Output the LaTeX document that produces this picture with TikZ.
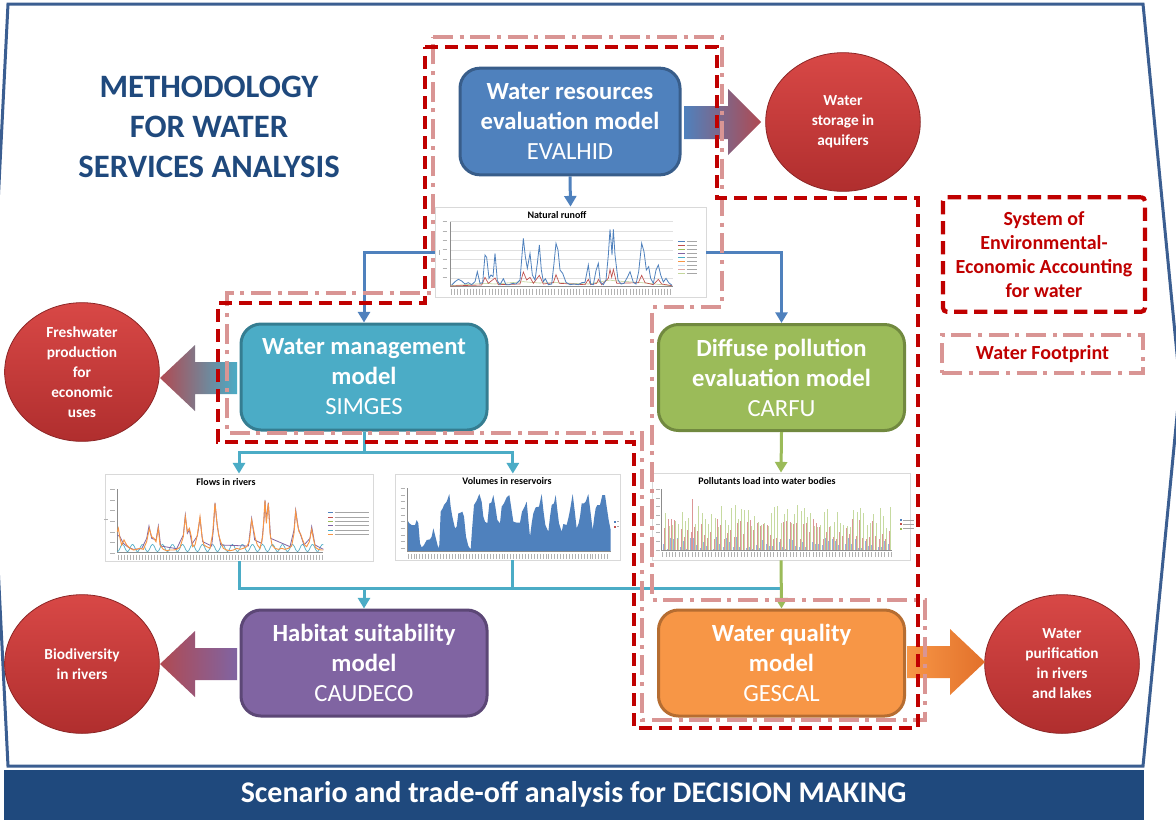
\documentclass[tikz,border=0pt]{standalone}
\usepackage{fontspec}
\setmainfont{Carlito}
\usetikzlibrary{arrows.meta,shapes.geometric,calc}
\definecolor{evblue}{HTML}{4F81BD}
\definecolor{evedge}{HTML}{385D8A}
\definecolor{tealA}{HTML}{4BACC6}
\definecolor{tealedge}{HTML}{357D91}
\definecolor{greenA}{HTML}{9BBB59}
\definecolor{greenedge}{HTML}{71893F}
\definecolor{purpA}{HTML}{8064A2}
\definecolor{purpedge}{HTML}{5C4776}
\definecolor{orngA}{HTML}{F79646}
\definecolor{orngedge}{HTML}{B66D31}
\definecolor{navy}{HTML}{1F497D}
\definecolor{seea}{HTML}{C00000}
\definecolor{wfp}{HTML}{D99594}
\definecolor{frameblue}{HTML}{3B5E91}
\definecolor{ballTop}{RGB}{216,72,70}
\definecolor{ballBot}{RGB}{176,46,46}
\definecolor{ballEdge}{RGB}{140,38,38}
\definecolor{arrRed}{RGB}{176,74,82}
\definecolor{orngDark}{RGB}{226,112,42}
\definecolor{sBlue}{HTML}{4F81BD}
\definecolor{sRed}{HTML}{C0504D}
\definecolor{sGreen}{HTML}{9BBB59}
\definecolor{sPurple}{HTML}{8064A2}
\definecolor{sTeal}{HTML}{4BACC6}
\definecolor{sOrange}{HTML}{F79646}
\definecolor{pBlue}{RGB}{150,180,220}
\definecolor{pRed}{RGB}{220,150,150}
\definecolor{pGreen}{RGB}{198,218,160}
\begin{document}
\begin{tikzpicture}[x=0.75pt,y=-0.75pt,
  model/.style={draw, line width=2.25pt, rounded corners=15pt, text=white, align=center, inner sep=0pt, font=\fontsize{18.5}{22.5}\selectfont},
  ball/.style={ellipse, minimum width=116pt, minimum height=104pt, draw=ballEdge, line width=0.6pt, top color=ballTop, bottom color=ballBot, text=white, align=center, font=\bfseries\fontsize{11.5}{15}\selectfont, inner sep=0pt},
  chart/.style={draw=black!15, fill=white, line width=0.6pt, inner sep=0pt},
  ctitle/.style={font=\bfseries\fontsize{7.5}{9}\selectfont, inner sep=0pt},
  conn/.style={line width=2.25pt, -{Triangle[width=9pt,length=8pt]}},
  plain/.style={line width=2.25pt},
  seeaLine/.style={draw=seea, line width=3.2pt, dash pattern=on 10pt off 5pt},
  wfpLine/.style={draw=wfp, line width=3.2pt, dash pattern=on 15pt off 5pt on 3pt off 5pt},
  tick/.style={black!30, line width=0.5pt},
  leg/.style={black!35, line width=0.6pt}]
\useasboundingbox (0,0) rectangle (1176,819);
\fill[white] (0,0) rectangle (1176,819);
% outer frame
\draw[frameblue, line width=2.25pt, line join=miter] (8,4) -- (1143,4) -- (1180,385) -- (1143,766) -- (8,766) -- (-11,385) -- cycle;
% banner
\node[fill=navy, minimum width=855pt, minimum height=37.5pt, inner sep=0pt, text=white, font=\bfseries\fontsize{22.5}{26}\selectfont] (banner) at (573.5,794.5) {Scenario and trade-off analysis for DECISION MAKING};
% title
\node[text=navy, align=center, font=\bfseries\fontsize{24.5}{30}\selectfont, inner sep=0pt] (title) at (209,127) {METHODOLOGY\\FOR WATER\\SERVICES ANALYSIS};

% model boxes
\node[model, fill=evblue, draw=evedge, minimum width=165pt, minimum height=80pt] (ev) at (570,121.5) {\textbf{Water resources}\\\textbf{evaluation model}\\EVALHID};
\node[model, fill=tealA, draw=tealedge, minimum width=184.5pt, minimum height=79.5pt] (sim) at (364,377) {\textbf{Water management}\\\textbf{model}\\SIMGES};
\node[model, fill=greenA, draw=greenedge, minimum width=184.5pt, minimum height=79.5pt] (carfu) at (781.5,377.5) {\textbf{Diffuse pollution}\\\textbf{evaluation model}\\CARFU};
\node[model, fill=purpA, draw=purpedge, minimum width=184.5pt, minimum height=79.5pt] (caud) at (364,663) {\textbf{Habitat suitability}\\\textbf{model}\\CAUDECO};
\node[model, fill=orngA, draw=orngedge, minimum width=184.5pt, minimum height=79.5pt] (gescal) at (781.5,663) {\textbf{Water quality}\\\textbf{model}\\GESCAL};

% outcome balls
\node[ball] (aq) at (843,122) {Water\\storage in\\aquifers};
\node[ball] (fresh) at (82,372) {Freshwater\\production\\for\\economic\\uses};
\node[ball] (bio) at (82,664) {Biodiversity\\in rivers};
\node[ball] (pur) at (1062,664) {Water\\purification\\in rivers\\and lakes};

% big gradient arrows
\shade[left color=evblue, right color=arrRed] (684,106) -- (728,106) -- (728,89) -- (761,122) -- (728,155) -- (728,139) -- (684,139) -- cycle;
\shade[left color=arrRed, right color=tealA] (237,362) -- (195,362) -- (195,345) -- (160,378) -- (195,411) -- (195,394) -- (237,394) -- cycle;
\shade[left color=arrRed, right color=purpA] (237,648) -- (195,648) -- (195,631) -- (160,664) -- (195,697) -- (195,680) -- (237,680) -- cycle;
\shade[left color=orngA, right color=orngDark] (907,646) -- (950,646) -- (950,629) -- (985,662) -- (950,695) -- (950,678) -- (907,678) -- cycle;

% charts
\node[chart, minimum width=203.25pt, minimum height=67.5pt] (runoff) at (570.5,252) {};
\node[chart, minimum width=201pt, minimum height=65.25pt] (flows) at (239,517.5) {};
\node[chart, minimum width=168.75pt, minimum height=64.5pt] (vol) at (507.5,517) {};
\node[chart, minimum width=193.5pt, minimum height=65.25pt] (poll) at (781,516.5) {};

% --- Natural runoff content
\node[ctitle] (t1) at (557,215) {Natural runoff};
\begin{scope}[shift={(420,200)}, x=0.25pt, y=-0.25pt]
 \foreach \g in {65,93,122,150,178,206,234} \draw[black!12, line width=0.3pt] (90,\g) -- (760,\g);
 \draw[black!45, line width=0.4pt] (90,65) -- (90,260) -- (760,260);
 \foreach \i in {0,...,70} \draw[tick] ({94+\i*9.4},266) -- ++(0,18);
 \foreach \g in {65,93,...,260} \draw[tick] (68,\g) -- (82,\g);
 \draw[tick] (58,150) -- (58,165);
 \draw[sGreen!70, line width=0.4pt] (92,257) -- (195,250) -- (225,252) -- (310,245) -- (358,249) -- (408,248) -- (505,252) -- (570,240) -- (580,242) -- (665,248) -- (756,257);
 \draw[sRed, line width=0.5pt] (92,258) -- (150,256) -- (185,255) -- (195,232) -- (205,250) -- (225,234) -- (235,254) -- (300,252) -- (310,216) -- (320,240) -- (330,232) -- (340,250) -- (358,226) -- (370,252) -- (400,248) -- (408,224) -- (418,250) -- (495,254) -- (505,238) -- (512,254) -- (530,250) -- (535,238) -- (545,254) -- (565,235) -- (570,208) -- (575,232) -- (580,208) -- (590,250) -- (655,248) -- (665,226) -- (675,248) -- (700,254) -- (715,238) -- (725,252) -- (756,257);
 \draw[sBlue, line width=0.6pt] (95,255) -- (105,245) -- (115,238) -- (125,243) -- (135,252) -- (145,248) -- (155,254) -- (165,245) -- (172,215) -- (180,250) -- (188,248) -- (195,165) -- (200,172) -- (207,235) -- (213,225) -- (219,230) -- (225,160) -- (232,242) -- (240,254) -- (250,236) -- (258,254) -- (268,254) -- (278,250) -- (288,252) -- (300,240) -- (310,115) -- (316,170) -- (322,205) -- (330,160) -- (337,225) -- (345,240) -- (352,190) -- (358,135) -- (364,210) -- (370,245) -- (376,236) -- (385,254) -- (395,252) -- (402,190) -- (408,130) -- (414,150) -- (420,210) -- (428,220) -- (438,247) -- (450,254) -- (462,252) -- (475,254) -- (485,248) -- (495,247) -- (505,195) -- (512,252) -- (520,254) -- (528,212) -- (535,190) -- (541,246) -- (550,254) -- (558,240) -- (565,165) -- (570,88) -- (574,135) -- (576,165) -- (580,88) -- (585,165) -- (594,240) -- (603,252) -- (612,250) -- (622,232) -- (630,215) -- (640,247) -- (648,252) -- (656,215) -- (665,130) -- (672,155) -- (679,210) -- (686,200) -- (692,235) -- (700,250) -- (708,210) -- (715,195) -- (722,225) -- (730,246) -- (738,235) -- (746,248) -- (756,256);
 \foreach \c [count=\k from 0] in {sBlue,sRed,sGreen,sPurple,sTeal,sOrange,sBlue!30,sRed!50,sGreen!60}
   {\draw[\c, line width=0.6pt] (775,{125+\k*12}) -- (795,{125+\k*12});
    \draw[leg] (800,{125+\k*12}) -- (832,{125+\k*12});}
\end{scope}

% --- Flows in rivers content
\node[ctitle] (t2) at (226,482) {Flows in rivers};
\begin{scope}[shift={(100,470)}, x=0.25pt, y=-0.25pt]
 \draw[black!45, line width=0.4pt] (52,58) -- (52,247) -- (670,247);
 \foreach \i in {0,...,68} \draw[tick] ({55+\i*9},254) -- ++(0,16);
 \foreach \g in {58,90,...,250} \draw[tick] (30,\g) -- (45,\g);
 \draw[tick] (12,148) -- (24,148);
 \draw[sTeal, line width=0.5pt] plot[domain=52:670, samples=160] (\x, {234-11*sin(\x*12)});
 \draw[sPurple, line width=0.6pt] (52,195) -- (60,200) -- (70,220) -- (85,232) -- (100,238) -- (125,236) -- (140,205) -- (147,168) -- (155,205) -- (168,210) -- (175,168) -- (182,228) -- (230,236) -- (250,195) -- (256,135) -- (262,190) -- (268,180) -- (276,222) -- (292,198) -- (300,145) -- (308,215) -- (335,228) -- (340,180) -- (345,98) -- (352,170) -- (362,225) -- (445,228) -- (455,145) -- (464,210) -- (485,220) -- (492,150) -- (495,90) -- (499,150) -- (505,98) -- (512,205) -- (570,230) -- (582,180) -- (587,120) -- (595,175) -- (612,225) -- (630,205) -- (635,170) -- (645,225) -- (670,238);
 \draw[sOrange, line width=0.7pt] (52,185) -- (55,175) -- (60,205) -- (65,225) -- (72,210) -- (80,225) -- (90,235) -- (100,240) -- (110,238) -- (120,235) -- (130,238) -- (140,215) -- (148,175) -- (155,200) -- (162,205) -- (168,215) -- (175,175) -- (180,225) -- (190,238) -- (200,242) -- (210,240) -- (220,240) -- (230,238) -- (240,232) -- (250,200) -- (256,140) -- (262,185) -- (268,175) -- (274,200) -- (278,230) -- (285,225) -- (292,195) -- (300,140) -- (306,200) -- (312,225) -- (320,230) -- (330,235) -- (338,190) -- (345,100) -- (350,150) -- (356,195) -- (362,215) -- (370,235) -- (380,240) -- (390,242) -- (400,240) -- (410,235) -- (420,238) -- (430,235) -- (440,230) -- (448,215) -- (455,150) -- (460,175) -- (466,205) -- (472,225) -- (480,235) -- (488,200) -- (495,92) -- (499,160) -- (505,100) -- (510,190) -- (516,225) -- (525,235) -- (535,238) -- (545,235) -- (555,238) -- (565,235) -- (575,228) -- (582,190) -- (587,125) -- (592,160) -- (597,185) -- (602,192) -- (608,210) -- (614,225) -- (620,230) -- (628,215) -- (635,178) -- (640,205) -- (646,232) -- (655,238) -- (665,240) -- (670,240);
 \foreach \c [count=\k from 0] in {sBlue,sRed,sGreen,sPurple,sTeal,sOrange}
   {\draw[\c, line width=0.6pt] (685,{128+\k*13}) -- (700,{128+\k*13});
    \draw[leg] (704,{128+\k*13}) -- (808,{128+\k*13});}
\end{scope}

% --- Volumes in reservoirs content
\node[ctitle] (t3) at (507,481) {Volumes in reservoirs};
\begin{scope}[shift={(390,470)}, x=0.25pt, y=-0.25pt]
 \foreach \i in {0,...,68} \draw[tick] ({54+\i*8.8},252) -- ++(0,16);
 \foreach \g in {55,75,...,250} \draw[tick] (32,\g) -- (46,\g);
 \fill[sBlue] (52,245) -- (52,150) -- (58,160) -- (65,165) -- (75,165) -- (80,150) -- (85,160) -- (90,220) -- (95,232) -- (102,225) -- (110,210) -- (120,208) -- (125,200) -- (130,175) -- (135,195) -- (140,215) -- (145,235) -- (148,225) -- (152,125) -- (158,115) -- (162,105) -- (170,95) -- (178,72) -- (182,110) -- (187,140) -- (195,175) -- (200,170) -- (205,130) -- (212,128) -- (217,125) -- (222,140) -- (228,200) -- (235,228) -- (242,238) -- (246,180) -- (252,105) -- (260,92) -- (268,72) -- (275,95) -- (280,140) -- (285,155) -- (292,160) -- (298,100) -- (304,98) -- (310,75) -- (316,110) -- (322,150) -- (330,160) -- (335,110) -- (342,100) -- (350,82) -- (358,75) -- (364,115) -- (370,155) -- (380,158) -- (390,158) -- (396,125) -- (404,110) -- (410,95) -- (415,150) -- (420,200) -- (425,160) -- (430,130) -- (437,112) -- (447,110) -- (455,72) -- (460,120) -- (466,165) -- (475,185) -- (480,140) -- (485,105) -- (492,100) -- (497,75) -- (502,120) -- (507,160) -- (515,185) -- (520,162) -- (530,165) -- (535,145) -- (540,120) -- (548,72) -- (555,130) -- (560,175) -- (566,160) -- (570,140) -- (575,100) -- (582,100) -- (587,95) -- (595,72) -- (602,130) -- (608,180) -- (613,140) -- (617,115) -- (622,105) -- (630,105) -- (637,75) -- (645,75) -- (650,110) -- (656,150) -- (662,180) -- (662,245) -- cycle;
 \draw[black!45, line width=0.4pt] (52,55) -- (52,245) -- (662,245);
 \fill[sBlue] (672,152) rectangle (679,159);
 \fill[sRed] (672,167) rectangle (679,174);
 \draw[leg] (682,155.5) -- (688,155.5);
 \draw[leg] (682,170.5) -- (688,170.5);
\end{scope}

% --- Pollutants content
\node[ctitle] (t4) at (767,481) {Pollutants load into water bodies};
\begin{scope}[shift={(650,470)}, x=0.25pt, y=-0.25pt]
 \foreach \i in {0,...,70} \draw[tick] ({38+\i*9.8},246) -- ++(0,16);
 \foreach \g in {58,84,...,240} \draw[tick] (18,\g) -- (30,\g);
 \pgfmathsetseed{12}
 \foreach \i in {0,...,68} {
   \pgfmathsetmacro\xx{40+\i*9.9}
   \pgfmathsetmacro\hg{105+rnd*70}
   \pgfmathsetmacro\hr{145+rnd*65}
   \pgfmathsetmacro\hb{200+rnd*38}
   \fill[pBlue] (\xx,240) rectangle ({\xx+2.6},\hb);
   \fill[pRed] ({\xx+2.8},240) rectangle ({\xx+5.4},\hr);
   \fill[pGreen] ({\xx+5.6},240) rectangle ({\xx+8.2},\hg);
 }
 \fill[pRed] (126,240) rectangle (129,88);
 \draw[black!45, line width=0.4pt] (35,58) -- (35,240) -- (725,240);
 \foreach \c [count=\k from 0] in {sBlue,sRed,sGreen}
   {\fill[\c] (750,{147+\k*13}) rectangle (756,{153+\k*13});
    \draw[leg] (760,{150+\k*13}) -- (792,{150+\k*13});}
\end{scope}

% connectors
\draw[conn, evblue] (ev.south) -- (runoff.north);
\draw[conn, evblue] (runoff.west) -| (sim.north);
\draw[conn, evblue] (runoff.east) -| (carfu.north);
\coordinate (sj) at (364,452);
\draw[plain, tealA] (sim.south) -- (sj);
\draw[conn, tealA] (sj) -| (flows.north);
\draw[conn, tealA] (sj) -| ([xshift=4pt]vol.north);
\coordinate (bj) at (364,588);
\draw[plain, tealA] (flows.south) |- (gescal.north |- bj);
\draw[plain, tealA] ([xshift=4pt]vol.south) -- ([xshift=4pt]vol.south |- bj);
\draw[conn, tealA] (bj) -- (caud.north);
\draw[conn, greenA] (carfu.south) -- (poll.north);
\draw[conn, greenA] (poll.south) -- (gescal.north);

% accounting boundaries
\draw[wfpLine] (433,37) -- (722,37) -- (722,307) -- (652,307) -- (652,600) -- (925,600) -- (925,720) -- (642,720) -- (642,433) -- (227,433) -- (227,293) -- (433,293) -- cycle;
\draw[seeaLine] (425,47) -- (717,47) -- (717,198) -- (918,198) -- (918,728) -- (634,728) -- (634,442) -- (218,442) -- (218,303) -- (425,303) -- cycle;

% legend
\node[draw=seea, line width=3.2pt, dash pattern=on 10pt off 5pt, rounded corners=3pt, minimum width=151.5pt, minimum height=86pt, inner sep=0pt, text=seea, align=center, font=\bfseries\fontsize{15}{18}\selectfont] (legA) at (1044,254.5) {System of\\Environmental-\\Economic Accounting\\for water};
\node[draw=wfp, line width=3.2pt, dash pattern=on 15pt off 5pt on 3pt off 5pt, minimum width=150.75pt, minimum height=28.5pt, inner sep=0pt, text=seea, font=\bfseries\fontsize{15}{18}\selectfont] (legB) at (1042.5,354) {Water Footprint};
\end{tikzpicture}
\end{document}
